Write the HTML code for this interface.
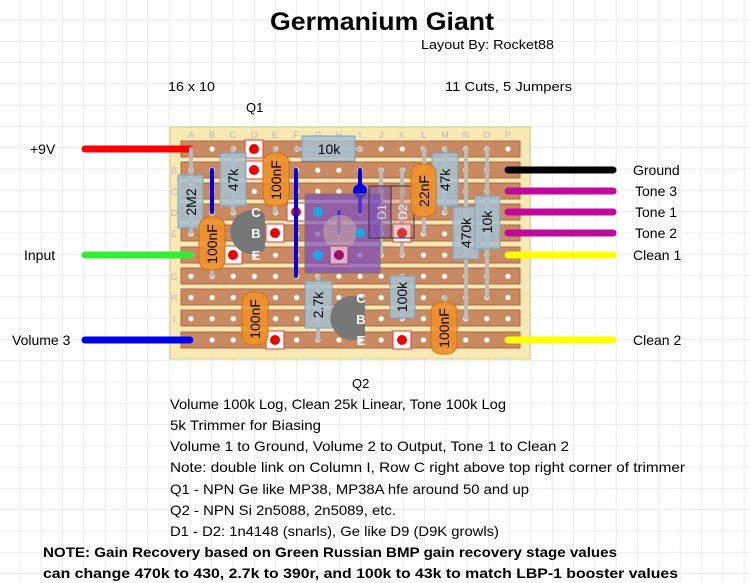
<!DOCTYPE html>
<html><head><meta charset="utf-8"><style>
html,body{margin:0;padding:0;background:#fff;}
svg{display:block;}
text{font-family:"Liberation Sans",sans-serif;}
</style></head><body>
<svg width="750" height="583" viewBox="0 0 750 583" xmlns="http://www.w3.org/2000/svg">
<defs>
<pattern id="g" x="-1" y="-1" width="21.3" height="21.3" patternUnits="userSpaceOnUse">
<path d="M21.3 0V21.3M0 21.3H21.3" stroke="#e6e6e6" stroke-width="1.5" fill="none"/>
</pattern>
<pattern id="d" x="180.5" y="138.5" width="21.13" height="21.22" patternUnits="userSpaceOnUse">
<circle cx="10.5" cy="10.5" r="2.6" fill="#fff"/>
</pattern>
</defs>
<rect width="750" height="583" fill="url(#g)"/>
<text x="270" y="30" font-size="25" font-weight="bold" textLength="224" lengthAdjust="spacingAndGlyphs">Germanium Giant</text>
<text x="421" y="49" font-size="13" textLength="133" lengthAdjust="spacingAndGlyphs">Layout By: Rocket88</text>
<text x="168" y="91" font-size="13" textLength="47" lengthAdjust="spacingAndGlyphs">16 x 10</text>
<text x="445" y="91" font-size="13" textLength="127" lengthAdjust="spacingAndGlyphs">11 Cuts, 5 Jumpers</text>
<text x="246" y="112" font-size="13">Q1</text>

<!-- board -->
<rect x="170" y="127" width="360" height="232" fill="#f8e8b4" stroke="#d8c890"/>
<g font-size="9" fill="#b8b8b8" text-anchor="middle">
<text x="191" y="138">A</text><text x="212" y="138">B</text><text x="233" y="138">C</text><text x="254" y="138">D</text><text x="275" y="138">E</text><text x="296" y="138">F</text><text x="318" y="138">G</text><text x="339" y="138">H</text><text x="360" y="138">I</text><text x="381" y="138">J</text><text x="402" y="138">K</text><text x="424" y="138">L</text><text x="445" y="138">M</text><text x="466" y="138">N</text><text x="487" y="138">O</text><text x="508" y="138">P</text>
<text x="174" y="174">B</text><text x="174" y="195">C</text><text x="174" y="216">D</text><text x="174" y="237">E</text><text x="174" y="259">F</text><text x="174" y="280">G</text><text x="174" y="301">H</text><text x="174" y="322">I</text>
</g>
<g fill="#c98a62" stroke="#a86a48" stroke-width="1">
<rect x="181" y="141" width="339" height="16"/><rect x="181" y="162" width="339" height="16"/><rect x="181" y="183" width="339" height="16"/><rect x="181" y="204" width="339" height="16"/><rect x="181" y="225" width="339" height="16"/><rect x="181" y="247" width="339" height="16"/><rect x="181" y="268" width="339" height="16"/><rect x="181" y="289" width="339" height="16"/><rect x="181" y="310" width="339" height="16"/><rect x="181" y="332" width="339" height="16"/>
</g>
<rect x="180.5" y="138.5" width="338.1" height="212.2" fill="url(#d)"/>

<!-- off-board wires -->
<g stroke-linecap="round" stroke-width="7">
<line x1="85" y1="149" x2="190" y2="149" stroke="#f00"/>
<line x1="85" y1="255" x2="190" y2="255" stroke="#3e3"/>
<line x1="85" y1="340" x2="190" y2="340" stroke="#00e"/>
<line x1="508" y1="170" x2="613" y2="170" stroke="#000"/>
<line x1="508" y1="191" x2="613" y2="191" stroke="#c0099c"/>
<line x1="508" y1="212" x2="613" y2="212" stroke="#c0099c"/>
<line x1="508" y1="233" x2="613" y2="233" stroke="#c0099c"/>
<line x1="508" y1="255" x2="613" y2="255" stroke="#ff0"/>
<line x1="508" y1="340" x2="613" y2="340" stroke="#ff0"/>
</g>
<g font-size="14">
<text x="30" y="154">+9V</text><text x="24" y="260">Input</text><text x="12" y="345">Volume 3</text>
<text x="633" y="175">Ground</text><text x="635" y="196">Tone 3</text><text x="635" y="217">Tone 1</text><text x="635" y="238">Tone 2</text><text x="633" y="260">Clean 1</text><text x="633" y="345">Clean 2</text>
</g>

<!-- leads -->
<g stroke="#bbb" stroke-width="4" stroke-linecap="round">
<line x1="191" y1="149" x2="191" y2="233"/>
<line x1="233" y1="149" x2="233" y2="212"/>
<line x1="275" y1="149" x2="275" y2="212"/>
<line x1="212" y1="212" x2="212" y2="276"/>
<line x1="296" y1="149" x2="360" y2="149"/>
<line x1="318" y1="276" x2="318" y2="340"/>
<line x1="402" y1="276" x2="402" y2="318"/>
<line x1="381" y1="170" x2="381" y2="255"/>
<line x1="402" y1="170" x2="402" y2="255"/>
<line x1="424" y1="149" x2="424" y2="233"/>
<line x1="445" y1="149" x2="445" y2="212"/>
<line x1="466" y1="149" x2="466" y2="318"/>
<line x1="487" y1="149" x2="487" y2="297"/>
<line x1="254" y1="297" x2="254" y2="340"/>
<line x1="445" y1="297" x2="445" y2="340"/>
</g>

<!-- cuts -->
<g fill="#fff" stroke="#e33" stroke-width="1">
<rect x="245" y="140" width="18" height="18"/><rect x="245" y="161" width="18" height="18"/><rect x="287" y="203" width="18" height="18"/><rect x="266" y="224" width="18" height="18"/><rect x="224" y="246" width="18" height="18"/><rect x="266" y="331" width="18" height="18"/><rect x="393" y="331" width="18" height="18"/><rect x="393" y="224" width="18" height="18"/>
</g>
<g fill="#e00">
<circle cx="254" cy="149" r="5"/><circle cx="254" cy="170" r="5"/><circle cx="296" cy="212" r="5"/><circle cx="275" cy="233" r="5"/><circle cx="233" cy="255" r="5"/><circle cx="275" cy="340" r="5"/><circle cx="402" cy="340" r="5"/><circle cx="402" cy="233" r="5"/>
</g>

<!-- jumpers -->
<g stroke="#0000e0" stroke-width="4" stroke-linecap="round">
<line x1="212" y1="170" x2="212" y2="212"/>
<line x1="296" y1="170" x2="296" y2="276"/>
<line x1="360" y1="170" x2="360" y2="212"/>
<line x1="339" y1="212" x2="339" y2="233"/>
</g>
<circle cx="360" cy="191" r="7" fill="#0000e0"/>

<!-- trimmer -->
<rect x="305" y="194" width="75" height="79" fill="#7a4cc0" fill-opacity="0.7" stroke="#776" />
<circle cx="340" cy="232" r="17" fill="#c8a8a8" fill-opacity="0.6"/>
<rect x="330" y="246" width="18" height="18" fill="#d8b0d8" stroke="#a44"/>
<circle cx="339" cy="255" r="5" fill="#a0105a"/>
<g fill="#19a8e0"><circle cx="318" cy="212" r="5"/><circle cx="360" cy="233" r="5"/><circle cx="318" cy="255" r="5"/></g>

<!-- diodes -->
<rect x="369" y="186" width="22" height="52" fill="#7a4cc0" fill-opacity="0.5" stroke="#333"/>
<rect x="391" y="186" width="23" height="52" fill="#c08080" fill-opacity="0.4" stroke="#333"/>
<text transform="translate(386,212) rotate(-90)" font-size="12" fill="#ddd" text-anchor="middle">D1</text>
<text transform="translate(407,212) rotate(-90)" font-size="12" fill="#fff" text-anchor="middle">D2</text>

<!-- resistors -->
<g fill="#a8c0d0" fill-opacity="0.85" stroke="#7aa0c0">
<rect x="302" y="136" width="53" height="25"/>
<rect x="178" y="175" width="25" height="53"/>
<rect x="220" y="153" width="26" height="53"/>
<rect x="305" y="281" width="27" height="47"/>
<rect x="390" y="276" width="25" height="42"/>
<rect x="432" y="153" width="26" height="53"/>
<rect x="453" y="207" width="26" height="52"/>
<rect x="475" y="196" width="25" height="53"/>
</g>
<g font-size="14" text-anchor="middle">
<text x="329" y="154">10k</text>
<text transform="translate(196,202) rotate(-90)">2M2</text>
<text transform="translate(238,180) rotate(-90)">47k</text>
<text transform="translate(323,305) rotate(-90)">2.7k</text>
<text transform="translate(407,297) rotate(-90)">100k</text>
<text transform="translate(450,180) rotate(-90)">47k</text>
<text transform="translate(471,233) rotate(-90)">470k</text>
<text transform="translate(492,222) rotate(-90)">10k</text>
</g>

<!-- caps -->
<g fill="#f0902a" fill-opacity="0.9" stroke="#d07010">
<rect x="263" y="153" width="26" height="53" rx="10"/>
<rect x="199" y="217" width="26" height="53" rx="10"/>
<rect x="242" y="292" width="26" height="53" rx="10"/>
<rect x="411" y="164" width="25" height="53" rx="10"/>
<rect x="431" y="302" width="26" height="52" rx="10"/>
</g>
<g font-size="14" text-anchor="middle">
<text transform="translate(281,180) rotate(-90)">100nF</text>
<text transform="translate(217,244) rotate(-90)">100nF</text>
<text transform="translate(260,319) rotate(-90)">100nF</text>
<text transform="translate(429,191) rotate(-90)">22nF</text>
<text transform="translate(449,328) rotate(-90)">100nF</text>
</g>

<!-- transistors -->
<path d="M265 214 A22 22 0 1 0 265 250 Z" fill="#777"/>
<path d="M365 300 A22 22 0 1 0 365 336 Z" fill="#777"/>
<g font-size="13" font-weight="bold" fill="#fff" text-anchor="middle">
<text x="256" y="217">C</text><text x="256" y="238">B</text><text x="256" y="260">E</text>
<text x="361" y="303">C</text><text x="361" y="324">B</text><text x="361" y="345">E</text>
</g>

<text x="352" y="388" font-size="13">Q2</text>
<g font-size="14">
<text x="170" y="409" textLength="336" lengthAdjust="spacingAndGlyphs">Volume 100k Log, Clean 25k Linear, Tone 100k Log</text>
<text x="170" y="430" textLength="151" lengthAdjust="spacingAndGlyphs">5k Trimmer for Biasing</text>
<text x="170" y="451" textLength="399" lengthAdjust="spacingAndGlyphs">Volume 1 to Ground, Volume 2 to Output, Tone 1 to Clean 2</text>
<text x="170" y="472" textLength="515" lengthAdjust="spacingAndGlyphs">Note: double link on Column I, Row C right above top right corner of trimmer</text>
<text x="170" y="494" textLength="359" lengthAdjust="spacingAndGlyphs">Q1 -  NPN Ge like MP38, MP38A hfe around 50 and up</text>
<text x="170" y="515" textLength="226" lengthAdjust="spacingAndGlyphs">Q2 -  NPN Si 2n5088, 2n5089, etc.</text>
<text x="170" y="536" textLength="329" lengthAdjust="spacingAndGlyphs">D1 - D2: 1n4148 (snarls), Ge like D9 (D9K growls)</text>
</g>
<g font-size="14" font-weight="bold">
<text x="43" y="557" textLength="574" lengthAdjust="spacingAndGlyphs">NOTE: Gain Recovery based on Green Russian BMP gain recovery stage values</text>
<text x="43" y="578" textLength="635" lengthAdjust="spacingAndGlyphs">can change 470k to 430, 2.7k to 390r, and 100k to 43k to match LBP-1 booster values</text>
</g>
</svg>
</body></html>
